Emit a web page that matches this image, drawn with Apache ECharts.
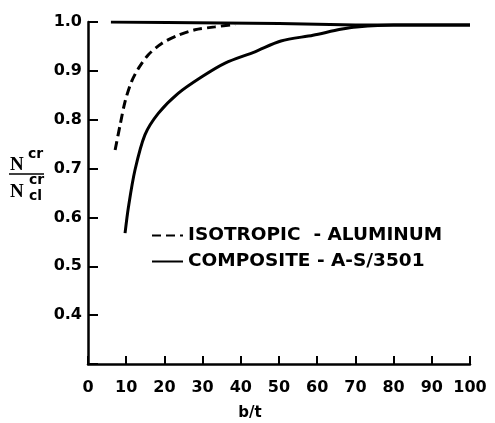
<!DOCTYPE html>
<html>
<head>
<meta charset="utf-8">
<script src="https://cdn.jsdelivr.net/npm/echarts@6/dist/echarts.min.js"></script>
<style>
    html, body { margin: 0; padding: 0; background: #fff; }
    #app { width: 495px; height: 423px; }
</style>
</head>
<body>
<div id="app"></div>
<script>
// 各曲线数据（b/t 与 N/Ncl 读自原图）
const isoName = 'ISOTROPIC  - ALUMINUM';
const isoBt = [7.1, 8.4, 9.7, 11.4, 13.2, 15.8, 19.3, 23.6, 28.0, 33.2, 38.5];
const isoVal = [0.738, 0.789, 0.837, 0.878, 0.905, 0.933, 0.956, 0.973, 0.984, 0.990, 0.995];

const compName = 'COMPOSITE - A-S/3501';
const compBt = [9.7, 10.6, 12.3, 14.9, 18.4, 23.6, 29.8, 35.9, 43.7, 50.5, 58.9, 66.1, 70.3, 80, 90, 100];
const compVal = [0.568, 0.622, 0.697, 0.769, 0.813, 0.854, 0.888, 0.916, 0.939, 0.961, 0.973, 0.985, 0.990, 0.994, 0.994, 0.994];

// 顶部的 1.0 线
const limBt = [6, 50, 70, 100];
const limVal = [1.0, 0.997, 0.994, 0.994];

// 坐标轴刻度
const xMin = 0, xMax = 100, xStep = 10;
const yMin = 0.3, yMax = 1.0, yStep = 0.1;

// 把两组数组拼成点
function pairs(xs, ys) {
    return xs.map(function(x, i) { return [x, ys[i]]; });
}

const font = '"DejaVu Sans", sans-serif';

let myChart = echarts.init(document.getElementById('app'));
myChart.setOption({
    animation: false,
    backgroundColor: '#fff',
    color: ['#000', '#000', '#000'],
    grid: { left: 88, right: 25, top: 22, bottom: 59 },
    legend: {
        data: [isoName, compName],
        orient: 'vertical',
        left: 146,
        top: 221,
        itemWidth: 31,
        itemHeight: 14,
        itemGap: 7,
        itemStyle: { opacity: 0 },
        textStyle: { color: '#000', fontFamily: font, fontWeight: 'bold', fontSize: 18.5 }
    },
    xAxis: {
        type: 'value',
        min: xMin,
        max: xMax,
        interval: xStep,
        axisLine: { lineStyle: { color: '#000', width: 2.5 } },
        axisTick: { inside: true, length: 8, lineStyle: { color: '#000', width: 2 } },
        axisLabel: { color: '#000', fontFamily: font, fontWeight: 'bold', fontSize: 16, margin: 16 },
        splitLine: { show: false }
    },
    yAxis: {
        type: 'value',
        min: yMin,
        max: yMax,
        interval: yStep,
        axisLine: { show: true, lineStyle: { color: '#000', width: 2.5 } },
        axisTick: { show: true, inside: true, length: 10, lineStyle: { color: '#000', width: 2 } },
        axisLabel: {
            color: '#000', fontFamily: font, fontWeight: 'bold', fontSize: 16, margin: 6,
            formatter: function(v) {
                return Math.abs(v - yMin) < 1e-6 ? '' : v.toFixed(1);
            }
        },
        splitLine: { show: false }
    },
    graphic: [
        // 坐标轴名称 b/t
        { type: 'text', x: 250, y: 413, style: { text: 'b/t', fill: '#000', font: 'bold 15px ' + font, textAlign: 'center', textVerticalAlign: 'middle' } },
        // 纵轴名称 N^cr / N_cl^cr
        { type: 'text', x: 10, y: 165, style: { text: 'N', fill: '#000', font: 'bold 19px "Liberation Serif", serif', textVerticalAlign: 'middle' } },
        { type: 'text', x: 28, y: 154, style: { text: 'cr', fill: '#000', font: 'bold 14px ' + font, textVerticalAlign: 'middle' } },
        { type: 'line', shape: { x1: 9, y1: 174, x2: 44, y2: 174 }, style: { stroke: '#000', lineWidth: 1.5 } },
        { type: 'text', x: 10, y: 192, style: { text: 'N', fill: '#000', font: 'bold 19px "Liberation Serif", serif', textVerticalAlign: 'middle' } },
        { type: 'text', x: 29, y: 180, style: { text: 'cr', fill: '#000', font: 'bold 14px ' + font, textVerticalAlign: 'middle' } },
        { type: 'text', x: 29, y: 196, style: { text: 'cl', fill: '#000', font: 'bold 14px ' + font, textVerticalAlign: 'middle' } }
    ],
    series: [{
        name: 'limit',
        type: 'line',
        data: pairs(limBt, limVal),
        symbol: 'none',
        lineStyle: { color: '#000', width: 3 }
    }, {
        name: isoName,
        type: 'line',
        data: pairs(isoBt, isoVal),
        symbol: 'none',
        smooth: 0.3,
        lineStyle: { color: '#000', width: 3, type: [9, 5] }
    }, {
        name: compName,
        type: 'line',
        data: pairs(compBt, compVal),
        symbol: 'none',
        smooth: 0.3,
        lineStyle: { color: '#000', width: 3 }
    }]
});
</script>
</body>
</html>
